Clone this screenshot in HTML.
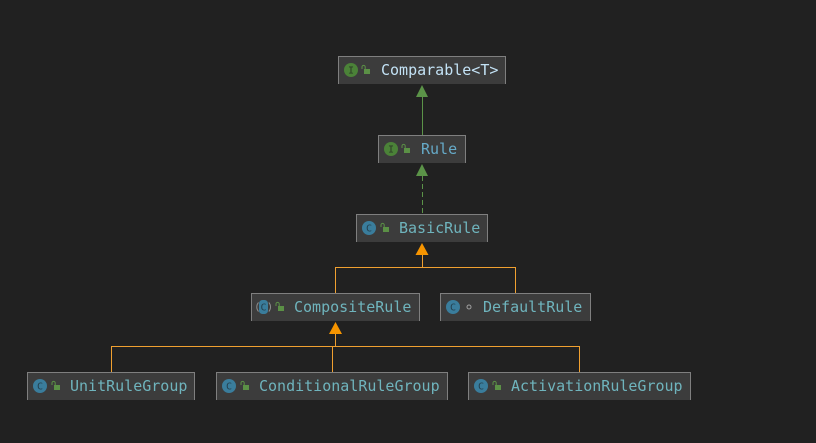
<!DOCTYPE html>
<html><head><meta charset="utf-8"><style>
html,body{margin:0;padding:0;background:#212121;width:816px;height:443px;overflow:hidden}
svg{display:block}
text{font-family:"DejaVu Sans Mono","Liberation Mono",monospace;font-size:15px;fill:#6fb4bd}
.ic{font-family:"DejaVu Sans Mono",monospace;font-size:10px;text-anchor:middle}
</style></head><body>
<svg width="816" height="443" viewBox="0 0 816 443" xmlns="http://www.w3.org/2000/svg">
<defs>
<g id="lock"><rect x="-1" y="0" width="6" height="5" fill="#5b9046"/><path d="M-3 0v-2a1.6 1.6 0 0 1 3.2 0v2" fill="none" stroke="#5b9046" stroke-width="1"/></g>
</defs>

<!-- connectors -->
<g fill="none" stroke-width="1" shape-rendering="crispEdges">
<path d="M422.5 97V135" stroke="#5b9348"/>
<path d="M422.5 176V214" stroke="#5b9348" stroke-dasharray="5 3"/>
<path d="M422.5 255V267.5M335.5 293V267.5H515.5V293" stroke="#f0a030"/>
<path d="M335.5 334V346.5M111.5 372V346.5H579.5V372M332.5 346.5V372" stroke="#f0a030"/>
</g>
<polygon points="422,85 428,97 416,97" fill="#5b9348"/>
<polygon points="422,164 428,176 416,176" fill="#5b9348"/>
<polygon points="422,243 428.5,255 415.5,255" fill="#f79500"/>
<polygon points="335.5,322 342,334 329,334" fill="#f79500"/>

<!-- boxes -->
<g fill="#3c3c3c" stroke="#7f7f7f" stroke-width="1" shape-rendering="crispEdges">
<rect x="338" y="56" width="168" height="28" stroke="none"/><path d="M338.5 84V56.5H505.5V84" fill="none"/>
<rect x="378" y="135" width="88" height="28" stroke="none"/><path d="M378.5 163V135.5H465.5V163" fill="none"/>
<rect x="356" y="214" width="132" height="28" stroke="none"/><path d="M356.5 242V214.5H487.5V242" fill="none"/>
<rect x="251" y="293" width="169" height="28" stroke="none"/><path d="M251.5 321V293.5H419.5V321" fill="none"/>
<rect x="440" y="293" width="151" height="28" stroke="none"/><path d="M440.5 321V293.5H590.5V321" fill="none"/>
<rect x="27" y="372" width="168" height="28" stroke="none"/><path d="M27.5 400V372.5H194.5V400" fill="none"/>
<rect x="216" y="372" width="232" height="28" stroke="none"/><path d="M216.5 400V372.5H447.5V400" fill="none"/>
<rect x="468" y="372" width="223" height="28" stroke="none"/><path d="M468.5 400V372.5H690.5V400" fill="none"/>
</g>

<!-- interface icons -->
<circle cx="351" cy="70" r="7" fill="#4b8238"/><text class="ic" x="351" y="73.5" style="fill:#2b3a26">I</text>
<use href="#lock" x="365" y="69"/>
<circle cx="391" cy="149" r="7" fill="#4b8238"/><text class="ic" x="391" y="152.5" style="fill:#2b3a26">I</text>
<use href="#lock" x="405" y="148"/>

<!-- class icons -->
<g fill="#3a7d9c">
<circle cx="369" cy="228" r="7"/>
<circle cx="40" cy="386" r="7"/>
<circle cx="229" cy="386" r="7"/>
<circle cx="481" cy="386" r="7"/>
<circle cx="453" cy="307" r="7"/>
<rect x="259" y="300" width="9" height="14" rx="3.5"/>
</g>
<path d="M258.5 302.5A6.8 6.8 0 0 0 258.5 311.5M268.8 302.5A6.8 6.8 0 0 1 268.8 311.5" fill="none" stroke="#8f8f8f" stroke-width="1"/>
<g>
<text class="ic" x="369" y="231.5" style="fill:#24414f">C</text>
<text class="ic" x="40" y="389.5" style="fill:#24414f">C</text>
<text class="ic" x="229" y="389.5" style="fill:#24414f">C</text>
<text class="ic" x="481" y="389.5" style="fill:#24414f">C</text>
<text class="ic" x="453" y="310.5" style="fill:#24414f">C</text>
<text class="ic" x="263.5" y="310.5" style="fill:#24414f">C</text>
</g>
<use href="#lock" x="384" y="227"/>
<use href="#lock" x="279" y="306"/>
<use href="#lock" x="55" y="385"/>
<use href="#lock" x="244" y="385"/>
<use href="#lock" x="496" y="385"/>
<circle cx="469" cy="307" r="2" fill="none" stroke="#a0a0a0" stroke-width="1"/>

<!-- labels -->
<text x="381" y="75" style="fill:#c3e2f5">Comparable&lt;T&gt;</text>
<text x="421" y="154" style="fill:#66aac8">Rule</text>
<text x="399" y="233">BasicRule</text>
<text x="294" y="312">CompositeRule</text>
<text x="483" y="312">DefaultRule</text>
<text x="70" y="391">UnitRuleGroup</text>
<text x="259" y="391">ConditionalRuleGroup</text>
<text x="511" y="391">ActivationRuleGroup</text>
</svg>
</body></html>
